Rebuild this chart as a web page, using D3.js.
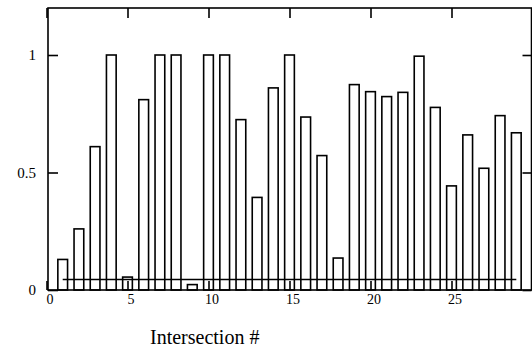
<!DOCTYPE html>
<html><head><meta charset="utf-8">
<script src="https://cdn.jsdelivr.net/npm/d3@7"></script>
<style>body{margin:0;background:#fff}svg{display:block}</style>
</head><body><svg id="c" width="532" height="351"></svg>
<script>
const intersections = d3.range(1, 30);
const values = [0.13,0.26,0.61,1.0,0.055,0.81,1.0,1.0,0.023,1.0,1.0,0.725,0.394,0.86,1.0,0.736,0.572,0.136,0.874,0.844,0.823,0.841,0.995,0.777,0.443,0.66,0.518,0.742,0.669];
const threshold = 0.045;
const xTicks = [0,5,10,15,20,25];
const yTicks = [0,0.5,1];
const yTickLabels = ["0","0.5","1"];
const xLabel = "Intersection #";

(function(){
const svg = d3.select("#c");
const font = "Liberation Serif, Times New Roman, serif";
const x = d3.scaleLinear().domain([0, 30]).range([46.5, 46.5 + 16.2*30]);
const y = d3.scaleLinear().domain([0, 1.2]).range([290, 8]);
const fl = 48, fr = 531.5, ft = y(1.2), fb = y(0);

svg.append("g").selectAll("rect").data(values).join("rect")
  .attr("x", (d,i) => x(intersections[i] - 0.3))
  .attr("width", x(0.6) - x(0))
  .attr("y", d => y(d))
  .attr("height", d => y(0) - y(d))
  .attr("fill", "#fff").attr("stroke", "#000").attr("stroke-width", 1.6);

svg.append("line")
  .attr("x1", x(1)).attr("x2", x(29))
  .attr("y1", y(threshold)).attr("y2", y(threshold))
  .attr("stroke", "#000").attr("stroke-width", 1.6);

svg.append("rect").attr("x", fl).attr("y", ft).attr("width", fr-fl).attr("height", fb-ft)
  .attr("fill", "none").attr("stroke", "#000").attr("stroke-width", 1.6);

function style(g){ g.select(".domain").remove(); g.selectAll("line").attr("stroke","#000").attr("stroke-width",1.6); g.selectAll("text").attr("font-family",font).attr("font-size",14).attr("fill","#000"); }

svg.append("g").attr("transform", `translate(0,${fb})`)
  .call(d3.axisBottom(x).tickValues(xTicks).tickSize(-9).tickPadding(4).tickFormat(d3.format("d")))
  .call(style).call(g => g.selectAll("text").attr("dx", 3));
svg.append("g").attr("transform", `translate(0,${ft})`)
  .call(d3.axisTop(x).tickValues(xTicks).tickSize(-10).tickFormat(""))
  .call(style);
svg.append("g").attr("transform", `translate(${fl},0)`)
  .call(d3.axisLeft(y).tickValues(yTicks).tickSize(-10).tickPadding(12).tickFormat((d,i)=>yTickLabels[i]))
  .call(style).call(g => g.selectAll("text").attr("font-size", 15));
svg.append("g").attr("transform", `translate(${fr},0)`)
  .call(d3.axisRight(y).tickValues(yTicks).tickSize(-9).tickFormat(""))
  .call(style);

svg.append("text").attr("x", 150).attr("y", 344).attr("font-family", font).attr("font-size", 20)
  .attr("fill", "#000").text(xLabel);
})();
</script></body></html>
